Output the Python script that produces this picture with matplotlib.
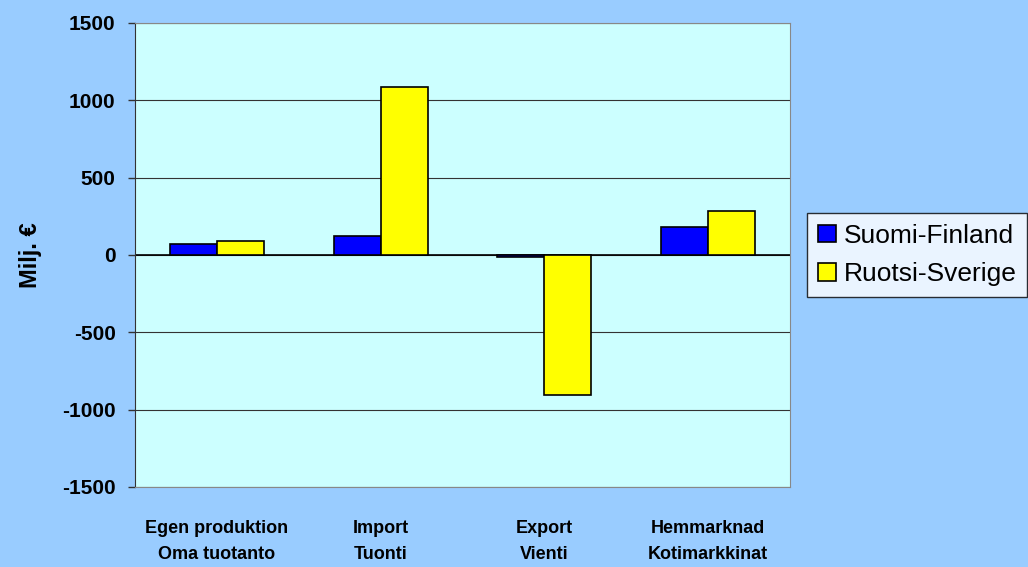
import numpy as np
import matplotlib
matplotlib.use("Agg")
import matplotlib.pyplot as plt

# Data
categories = ["Egen produktion\nOma tuotanto", "Import\nTuonti",
              "Export\nVienti", "Hemmarknad\nKotimarkkinat"]
finland = [69, 125, -12, 181]
sweden = [90, 1086, -905, 284]
series_names = ["Suomi-Finland", "Ruotsi-Sverige"]
y_ticks = [-1500, -1000, -500, 0, 500, 1000, 1500]

plt.rcParams['font.family'] = ['Liberation Sans', 'DejaVu Sans']

fig = plt.figure(figsize=(10.28, 5.67), dpi=100)
fig.patch.set_facecolor('#99CCFF')
ax = fig.add_axes([135 / 1028, 1 - 487 / 567, 655 / 1028, 464 / 567])
ax.set_facecolor('#CCFFFF')

x = np.arange(len(categories))
w = 0.287
ax.bar(x - w / 2, finland, w, color='#0000FF', edgecolor='black',
       linewidth=1.2, label=series_names[0], zorder=3)
ax.bar(x + w / 2, sweden, w, color='#FFFF00', edgecolor='black',
       linewidth=1.2, label=series_names[1], zorder=3)

ax.set_xlim(-0.5, len(categories) - 0.5)
ax.set_ylim(-1500, 1500)
ax.set_yticks(y_ticks)
ax.set_yticklabels([str(v) for v in y_ticks], fontsize=15, fontweight='bold')
ax.yaxis.grid(True, color='#333333', linewidth=0.8, zorder=0)
ax.axhline(0, color='black', linewidth=1.2, zorder=2)
ax.tick_params(axis='y', length=5, width=1, color='#333333', pad=9)

ax.set_xticks(x)
ax.set_xticklabels(categories, fontsize=13, fontweight='bold',
                   linespacing=1.7)
ax.tick_params(axis='x', length=0, pad=24)

for side in ['top', 'right', 'bottom']:
    ax.spines[side].set_color('#888888')
ax.spines['left'].set_color('#333333')

ax.set_ylabel("Milj. €", fontsize=17, fontweight='bold', labelpad=14)

leg = ax.legend(loc='center left', bbox_to_anchor=(1.026, 0.5),
                fontsize=19, frameon=True, fancybox=False,
                handlelength=0.7, handleheight=0.65, handletextpad=0.3,
                borderpad=0.4, labelspacing=0.55, borderaxespad=0)
leg.get_frame().set_edgecolor('black')
leg.get_frame().set_linewidth(1)
leg.get_frame().set_facecolor('white')

fig.savefig("out.png", dpi=100, facecolor=fig.get_facecolor())
